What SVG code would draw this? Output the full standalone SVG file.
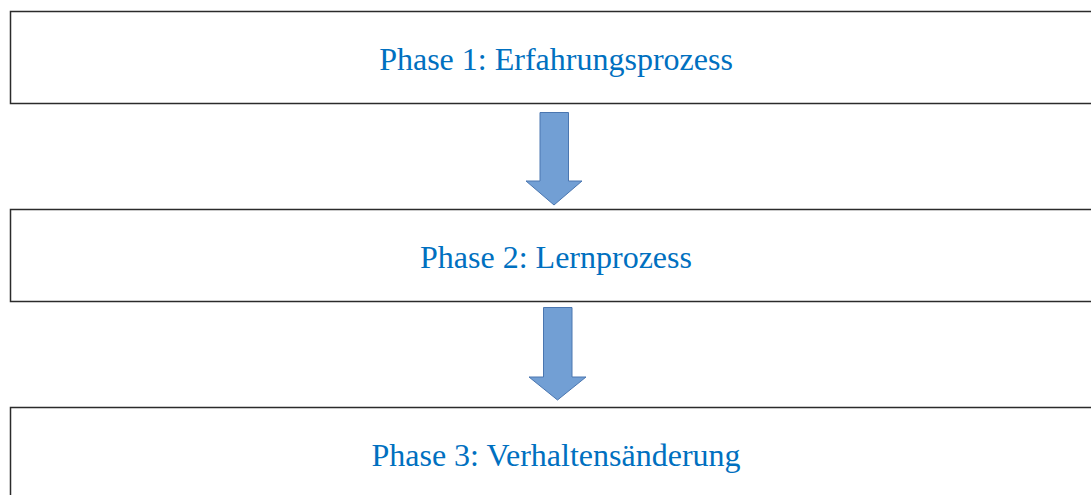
<svg xmlns="http://www.w3.org/2000/svg" width="1091" height="495" viewBox="0 0 1091 495">
<style>
.box{fill:#fff;stroke:#2b2b2b;stroke-width:1.5}
.lbl{font-family:"Liberation Serif",serif;font-size:32px;fill:#0070C0;text-anchor:middle}
.arr{fill:#729fd4;stroke:#4a76b0;stroke-width:1}
</style>
<rect width="1091" height="495" fill="#fff"/>
<g id="node1"><rect class="box" x="10.5" y="11.5" width="1090" height="92"/><text class="lbl" x="556" y="69.5">Phase 1: Erfahrungsprozess</text></g>
<g id="node2"><rect class="box" x="10.5" y="209.5" width="1090" height="92"/><text class="lbl" x="556" y="267.5">Phase 2: Lernprozess</text></g>
<g id="node3"><rect class="box" x="10.5" y="407.5" width="1090" height="100"/><text class="lbl" x="556" y="465.5">Phase 3: Verhaltensänderung</text></g>
<g id="connectors">
<path class="arr" d="M540,112.5 H568.5 V181 H582 L554,205 L526,181 H540 Z"/>
<path class="arr" d="M543.5,307.5 H572 V377 H586 L557.5,400 L529,377 H543.5 Z"/>
</g>
</svg>
